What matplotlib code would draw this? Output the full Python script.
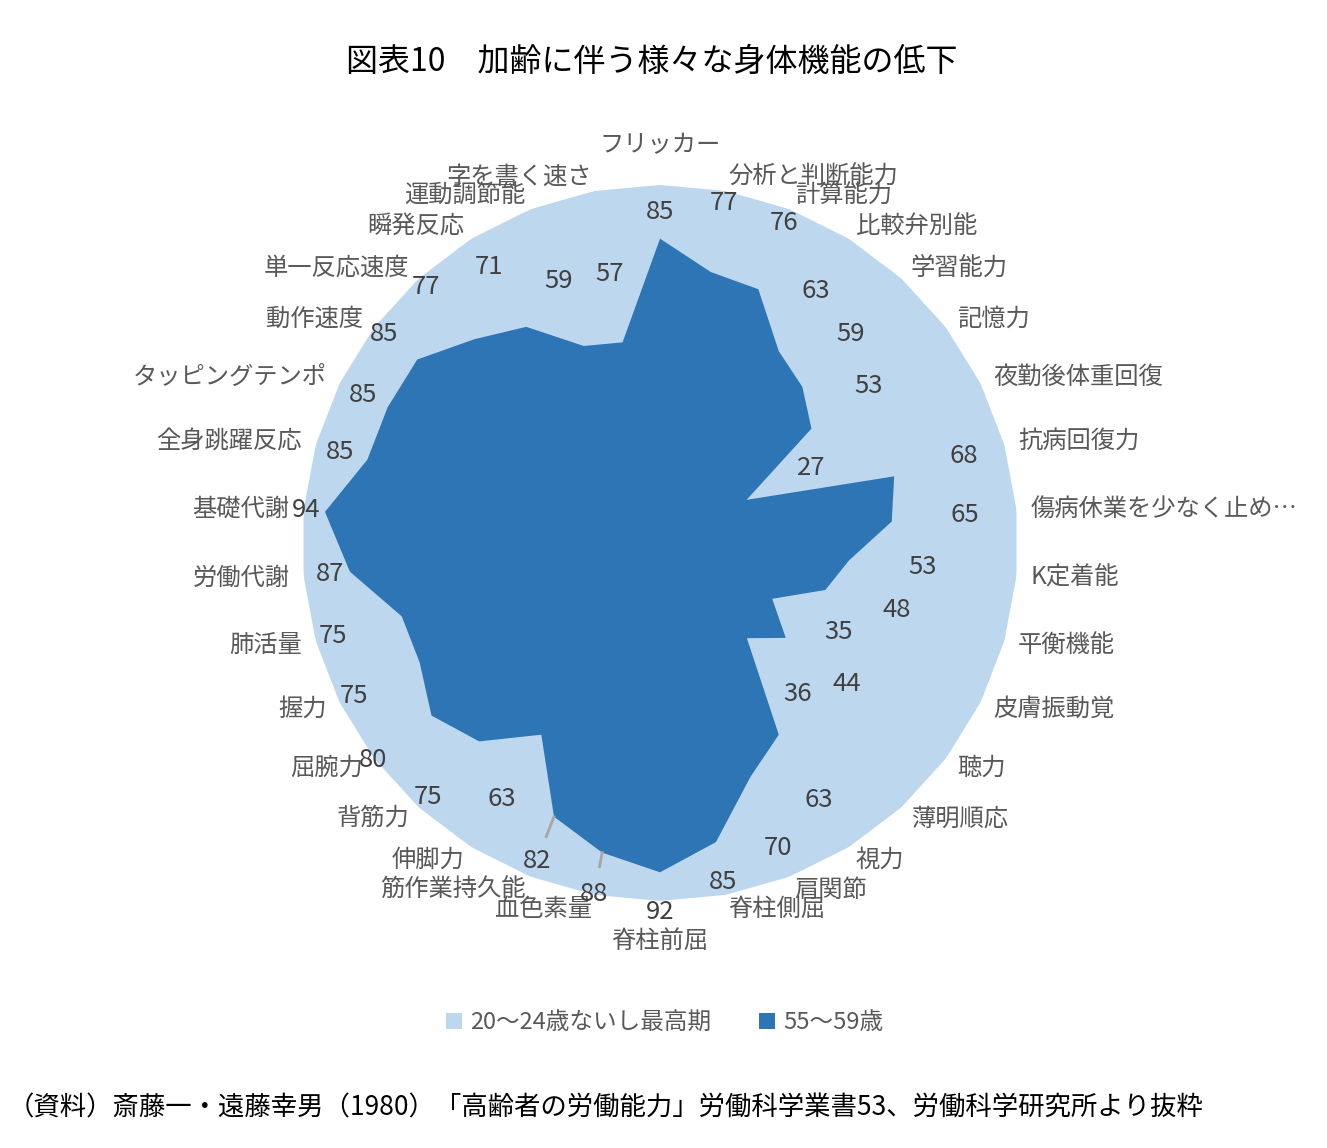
import numpy as np
import matplotlib
matplotlib.use('Agg')
import matplotlib.pyplot as plt
from matplotlib.patches import Patch

plt.rcParams['font.family'] = ['Noto Sans CJK JP', 'DejaVu Sans']

# 項目（上から時計回り）
categories = ['フリッカー', '分析と判断能力', '計算能力', '比較弁別能', '学習能力', '記憶力',
              '夜勤後体重回復', '抗病回復力', '傷病休業を少なく止め…', 'K定着能', '平衡機能',
              '皮膚振動覚', '聴力', '薄明順応', '視力', '肩関節', '脊柱側屈', '脊柱前屈',
              '血色素量', '筋作業持久能', '伸脚力', '背筋力', '屈腕力', '握力', '肺活量',
              '労働代謝', '基礎代謝', '全身跳躍反応', 'タッピングテンポ', '動作速度',
              '単一反応速度', '瞬発反応', '運動調節能', '字を書く速さ']
young = [100] * len(categories)
old = [85, 77, 76, 63, 59, 53, 27, 68, 65, 53, 48, 35, 44, 36, 63, 70, 85, 92,
       88, 82, 63, 75, 80, 75, 75, 87, 94, 85, 85, 85, 77, 71, 59, 57]
series_names = ['20～24歳ないし最高期', '55～59歳']

# データラベルの半径方向の位置（手動で動かされた配置を再現）
label_r = [92.5, 96.7, 95.7, 82.9, 78.9, 72.9, 47.1, 88.3, 85.5, 73.6, 68.8, 55.8,
           65.2, 57.2, 84.3, 91.3, 96.3, 103, 99.8, 95.4, 84, 96.1, 100.6, 95.6,
           95.1, 92.7, 99.2, 93, 92.7, 96.7, 96.9, 90.6, 78.5, 76.5]

light = '#BDD7EE'
dark = '#2E75B6'

n = len(categories)
theta = np.arange(n) * 2 * np.pi / n
tc = np.append(theta, theta[0])

fig = plt.figure(figsize=(13.27, 11.48), dpi=100)
ax = fig.add_axes([0.2276, 0.2152, 0.5396, 0.6237], projection='polar')
ax.set_theta_offset(np.pi / 2)
ax.set_theta_direction(-1)
ax.set_ylim(0, 100)

ax.fill(tc, young + young[:1], color=light, lw=0)
ax.fill(tc, old + old[:1], color=dark, lw=0)

ax.grid(False)
ax.set_xticks([])
ax.set_yticks([])
ax.spines['polar'].set_visible(False)
ax.patch.set_visible(False)

# 項目名
for i, (t, name) in enumerate(zip(theta, categories)):
    s, c = np.sin(t), np.cos(t)
    if abs(s) < 0.05:
        ha = 'center'
        va = 'bottom' if c > 0 else 'top'
        r = 107.5
    else:
        ha = 'left' if s > 0 else 'right'
        va = 'center'
        r = 104
    ax.text(t, r, name, ha=ha, va=va, fontsize=17.5, color='#595959')

# データラベル
for t, v, r in zip(theta, old, label_r):
    ax.text(t, r, str(v), ha='center', va='center', fontsize=18.5, color='#404040')

# 引き出し線
for i, ln in [(19, 6), (18, 4)]:
    ax.plot([theta[i], theta[i]], [old[i], old[i] + ln], color='#A6A6A6', lw=2)

fig.text(0.491, 0.946, '図表10　加齢に伴う様々な身体機能の低下', ha='center', va='center',
         fontsize=23, color='black')

handles = [Patch(facecolor=light, edgecolor='none'), Patch(facecolor=dark, edgecolor='none')]
fig.legend(handles, series_names, loc='center', bbox_to_anchor=(0.501, 0.109), ncol=2,
           frameon=False, fontsize=17, handlelength=0.7, handleheight=0.7,
           handletextpad=0.35, columnspacing=2.0, labelcolor='#595959')

fig.text(0.006, 0.035,
         '（資料）斎藤一・遠藤幸男（1980）「高齢者の労働能力」労働科学業書53、労働科学研究所より抜粋',
         ha='left', va='center', fontsize=19, color='black')

fig.savefig('out.png', dpi=100, facecolor='white')
